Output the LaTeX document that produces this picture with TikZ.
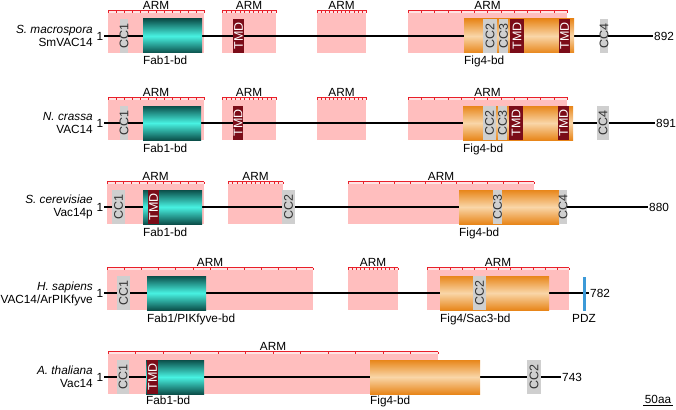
\documentclass[tikz,border=0pt]{standalone}
\usepackage{fontspec}
\setmainfont{Liberation Sans}
\definecolor{armpink}{HTML}{FFBEBE}
\definecolor{armlight}{HTML}{FFE4E4}
\definecolor{armred}{HTML}{E8202A}
\definecolor{tealdark}{HTML}{0B4F4A}
\definecolor{tealbright}{HTML}{48F2E2}
\definecolor{orgdark}{HTML}{E8861A}
\definecolor{orglight}{HTML}{F9D6A8}
\definecolor{tmdred}{HTML}{7B0C18}
\definecolor{ccgray}{HTML}{CFCFCF}
\definecolor{pdzblue}{HTML}{3C9AD8}
\tikzset{
  lbl/.style={font=\fontsize{11.8}{13}\selectfont, inner sep=1pt},
  vlbl/.style={rotate=90, font=\fontsize{12.5}{12.5}\selectfont, inner sep=0pt},
  armbox/.style={fill=armpink},
  ruler/.style={draw=armred, line width=0.6pt},
  fabbd/.style={top color=tealdark, bottom color=tealdark, middle color=tealbright},
  figbd/.style={top color=orgdark, bottom color=orgdark, middle color=orglight},
  ccbox/.style={fill=ccgray},
  tmdbox/.style={fill=tmdred},
  backbone/.style={line width=1.1pt},
}
\begin{document}
\begin{tikzpicture}[x=1pt, y=-1pt]
    \useasboundingbox (0,0) rectangle (676,409);

    % Especes
    \node[lbl, anchor=east, align=right] (sp1) at (94,36) {\textit{S. macrospora}\\SmVAC14};
    \node[lbl, anchor=east, align=right] (sp2) at (94,123) {\textit{N. crassa}\\VAC14};
    \node[lbl, anchor=east, align=right] (sp3) at (94,207) {\textit{S. cerevisiae}\\Vac14p};
    \node[lbl, anchor=east, align=right] (sp4) at (94,294) {\textit{H. sapiens}\\VAC14/ArPIKfyve};
    \node[lbl, anchor=east, align=right] (sp5) at (94,377) {\textit{A. thaliana}\\Vac14};

    % Debut et fin de chaine
    \node[lbl] (n1) at (100,36) {1};
    \node[lbl] (n2) at (100,123) {1};
    \node[lbl] (n3) at (100,207) {1};
    \node[lbl] (n4) at (100,293) {1};
    \node[lbl] (n5) at (100,377) {1};
    \node[lbl, anchor=west] (c1) at (653,36) {892};
    \node[lbl, anchor=west] (c2) at (655,123) {891};
    \node[lbl, anchor=west] (c3) at (648,207) {880};
    \node[lbl, anchor=west] (c4) at (589,293) {782};
    \node[lbl, anchor=west] (c5) at (561,377) {743};

    % Repetitions ARM
    \foreach \xa/\xb/\y [count=\i] in {108/204/36, 222/276/36, 317/366/36, 408/567/36,
        108/204/123, 222/276/123, 317/366/123, 408/567/123,
        107/204/207, 228/283/207, 348/534/207,
        107/313/293, 348/398/293, 427/569/293,
        108/438/377} {
        \fill[armbox] (\xa,\y-23) rectangle (\xb,\y+17);
        \fill[armlight] (\xa,\y-25.5) rectangle (\xb,\y-23);
        \draw[ruler] (\xa,\y-25.5) -- (\xb,\y-25.5);
        \foreach \k in {0,...,12}
            \draw[ruler, line width=0.4pt] ({\xa+\k*(\xb-\xa)/12},\y-25.5) -- ++(0,2.3);
        \node[lbl] (arm\i) at ({(\xa+\xb)/2},\y-31) {ARM};
    }

    % Chaine
    \foreach \i in {1,...,5}
        \draw[backbone] (n\i.east) -- (c\i.west);

    % Domaines de liaison
    \foreach \xa/\xb/\y in {143/202/36, 143/201/123, 143/202/207, 147/206/293, 146/204/377}
        \shade[fabbd] (\xa,\y-17) rectangle (\xb,\y+17);
    \foreach \xa/\xb/\y in {464/574/36, 463/573/123, 459/559/207, 440/549/293, 370/480/377}
        \shade[figbd] (\xa,\y-17) rectangle (\xb,\y+17);

    % TMD
    \foreach \xa/\xb/\y [count=\i] in {233/244/36, 510/524/36, 559/570/36,
        233/243/123, 509/523/123, 558/569/123, 148/159/207, 147/158/377} {
        \fill[tmdbox] (\xa,\y-17) rectangle (\xb,\y+17);
        \node[vlbl, text=white] (tmd\i) at ({(\xa+\xb)/2},\y) {TMD};
    }

    % Coiled coils
    \foreach \xa/\xb/\y/\lab [count=\i] in {120/128/36/CC1, 483/497/36/CC2, 499/508/36/CC3, 600/608/36/CC4,
        120/128/123/CC1, 483/496/123/CC2, 498/507/123/CC3, 597/609/123/CC4,
        112/125/207/CC1, 282/295/207/CC2, 493/502/207/CC3, 559/567/207/CC4,
        117/130/293/CC1, 473/486/293/CC2, 117/129/377/CC1, 527/541/377/CC2} {
        \fill[ccbox] (\xa,\y-17) rectangle (\xb,\y+17);
        \node[vlbl, text=black!80] (cc\i) at ({(\xa+\xb)/2},\y) {\lab};
    }

    % PDZ
    \fill[pdzblue] (582.5,277) rectangle (586,311);
    \node[lbl, anchor=base] (pdz) at (584,322) {PDZ};

    % Noms des domaines
    \node[lbl, anchor=base west, inner sep=0pt] (fab1) at (143,65) {Fab1-bd};
    \node[lbl, anchor=base west, inner sep=0pt] (fig1) at (464,65) {Fig4-bd};
    \node[lbl, anchor=base west, inner sep=0pt] (fab2) at (143,152) {Fab1-bd};
    \node[lbl, anchor=base west, inner sep=0pt] (fig2) at (463,152) {Fig4-bd};
    \node[lbl, anchor=base west, inner sep=0pt] (fab3) at (143,236) {Fab1-bd};
    \node[lbl, anchor=base west, inner sep=0pt] (fig3) at (459,236) {Fig4-bd};
    \node[lbl, anchor=base west, inner sep=0pt] (fab4) at (147,322) {Fab1/PIKfyve-bd};
    \node[lbl, anchor=base west, inner sep=0pt] (fig4) at (440,322) {Fig4/Sac3-bd};
    \node[lbl, anchor=base west, inner sep=0pt] (fab5) at (146,404) {Fab1-bd};
    \node[lbl, anchor=base west, inner sep=0pt] (fig5) at (370,404) {Fig4-bd};

    % Echelle
    \node[lbl, anchor=base, inner sep=0pt] (scale) at (658,403) {50aa};
    \draw[line width=0.8pt] ([xshift=-15pt,yshift=-2.5pt]scale.south) -- ([xshift=15pt,yshift=-2.5pt]scale.south);
\end{tikzpicture}
\end{document}
